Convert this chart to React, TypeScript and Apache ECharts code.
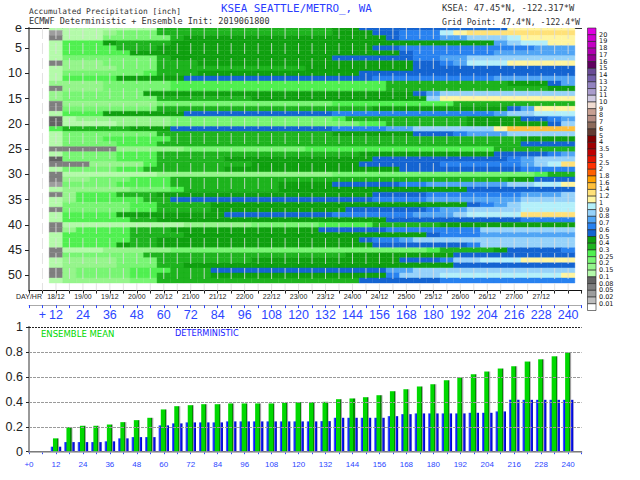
import React, { useEffect, useRef } from "react";
import * as echarts from "echarts";

const dayLabels = ["DAY/HR","18/12","19/00","19/12","20/00","20/12","21/00","21/12","22/00","22/12","23/00","23/12","24/00","24/12","25/00","25/12","26/00","26/12","27/00","27/12"];
const legendLabels = [20,19,18,17,16,15,14,13,12,11,10,9,8,7,6,5,4,3.5,3,2.5,2,1.8,1.6,1.4,1.2,1,0.9,0.8,0.7,0.6,0.5,0.4,0.3,0.25,0.2,0.15,0.1,0.08,0.05,0.02,0.01];
const legendColors = ["#e000e0","#d000d0","#c400c4","#b000b0","#940094","#600060","#6a4c96","#7560aa","#9384c0","#aa9ccc","#cfc8e0","#f0dcd2","#c8a092","#b48c82","#8c6a5a","#643c32","#820000","#a00000","#c00000","#e11400","#ff3200","#ff6000","#ffa000","#ffc03c","#ffe178","#fff5a0","#b4f0fa","#96d2fa","#50a5f5","#2882f0","#1464d2","#0fa00f","#1eb41e","#50f050","#78f573","#96f58c","#b4faaa","#636363","#7f7f7f","#9d9d9d","#bdbdbd","#ffffff"];
const memberLabels = [1,5,10,15,20,25,30,35,40,45,50];
const barHours = [12,18,24,30,36,42,48,54,60,66,72,78,84,90,96,102,108,114,120,126,132,138,144,150,156,162,168,174,180,186,192,198,204,210,216,222,228,234,240];
const ensembleMean = [.107,.197,.208,.208,.218,.237,.253,.272,.339,.365,.373,.381,.381,.387,.387,.387,.387,.392,.397,.397,.40,.421,.427,.437,.453,.485,.501,.523,.541,.573,.595,.621,.643,.667,.685,.723,.741,.765,.795];
const deterministic = [.04,.077,.077,.077,.083,.107,.117,.117,.211,.227,.235,.235,.235,.243,.243,.243,.243,.243,.243,.243,.245,.272,.272,.272,.272,.285,.301,.307,.307,.307,.307,.312,.312,.323,.416,.416,.416,.416,.416];

// each member: runs of [accumulated inches, last forecast hour of the run]
const memberRuns: number[][][] = [
  [[.12,54],[.35,132],[.45,144],[.55,210],[1.1,240]],
  [[.03,12],[.12,30],[.17,36],[.22,54],[.35,132],[.45,150],[.55,162],[.65,180],[.95,186],[1.1,192],[1.3,240]],
  [[.06,12],[.12,30],[.22,60],[.35,66],[.45,156],[.55,162],[.65,180],[.75,192],[.85,210],[.95,216],[1.1,240]],
  [[.12,12],[.27,30],[.45,36],[.35,60],[.45,204],[.75,210],[.85,216],[.95,228],[1.1,240]],
  [[.12,12],[.27,36],[.35,54],[.45,150],[.55,162],[.65,222],[.75,240]],
  [[.12,12],[.27,42],[.45,162],[.55,168],[.65,204],[.75,240]],
  [[.12,12],[.22,54],[.35,60],[.45,132],[.55,168],[.65,180],[.75,192],[.85,240]],
  [[.06,12],[.17,30],[.22,54],[.35,72],[.45,168],[.55,180],[.65,186],[.75,192],[.95,210],[1.1,240]],
  [[.12,12],[.17,36],[.22,54],[.35,120],[.45,168],[.55,240]],
  [[.12,12],[.22,48],[.27,54],[.35,72],[.45,144],[.55,240]],
  [[.12,12],[.27,36],[.45,66],[.55,150],[.65,204],[.75,240]],
  [[.17,30],[.22,60],[.27,156],[.35,210],[.45,228],[.55,234],[.75,240]],
  [[.06,12],[.17,30],[.22,60],[.27,156],[.35,228],[.45,240]],
  [[.17,12],[.22,48],[.45,168],[.55,174],[.75,180],[.85,240]],
  [[.17,12],[.22,54],[.35,96],[.45,174],[.85,180],[1.1,240]],
  [[.06,12],[.17,54],[.22,132],[.27,186],[.35,240]],
  [[.06,12],[.22,54],[.35,150],[.45,210],[.55,216],[.75,222],[1.1,240]],
  [[.12,12],[.27,30],[.45,66],[.55,132],[.65,204],[.75,210],[.85,222],[.95,240]],
  [[.09,12],[.12,18],[.17,60],[.22,132],[.27,138],[.35,192],[.45,216],[.55,228],[.65,234],[.75,240]],
  [[.09,12],[.12,36],[.17,60],[.22,144],[.27,156],[.35,192],[.45,228],[.55,234],[.85,240]],
  [[.27,12],[.35,42],[.45,60],[.55,132],[.65,156],[.75,168],[.85,204],[1.1,210],[1.5,240]],
  [[.12,12],[.22,54],[.35,132],[.45,168],[.55,186],[.65,192],[.75,210],[.85,240]],
  [[.12,12],[.22,30],[.27,60],[.35,216],[.45,240]],
  [[.12,12],[.22,36],[.27,54],[.35,216],[.55,240]],
  [[.06,36],[.17,66],[.22,120],[.27,204],[.35,240]],
  [[.12,12],[.22,36],[.27,54],[.35,144],[.45,204],[.55,228],[.65,234],[.75,240]],
  [[.09,12],[.22,36],[.27,54],[.35,84],[.45,150],[.55,210],[.65,216],[.75,222],[.85,240]],
  [[.06,24],[.17,48],[.27,54],[.35,96],[.45,144],[.55,180],[.65,216],[.75,222],[.85,228],[.95,234],[1.3,240]],
  [[.12,12],[.22,36],[.27,48],[.35,84],[.45,162],[.55,216],[.65,240]],
  [[.06,12],[.12,54],[.17,132],[.22,222],[.27,228],[.35,240]],
  [[.06,12],[.17,24],[.22,42],[.27,60],[.35,210],[.45,222],[.55,240]],
  [[.03,12],[.22,36],[.27,60],[.35,108],[.45,132],[.55,162],[.65,174],[.75,210],[.85,222],[.95,234],[1.1,240]],
  [[.12,12],[.17,42],[.22,60],[.27,66],[.35,108],[.45,192],[.55,240]],
  [[.06,12],[.17,18],[.27,36],[.35,54],[.45,150],[.55,174],[.65,216],[.75,234],[.85,240]],
  [[.12,12],[.17,18],[.27,48],[.35,60],[.55,150],[.65,174],[.75,216],[.85,240]],
  [[.12,12],[.22,42],[.27,54],[.35,78],[.45,192],[.55,198],[.65,204],[.75,210],[.85,216],[.95,240]],
  [[.06,12],[.22,42],[.27,54],[.35,78],[.45,138],[.55,174],[.65,180],[.75,192],[.85,216],[.95,240]],
  [[.12,12],[.27,36],[.45,84],[.55,132],[.65,168],[.75,186],[.85,192],[.95,216],[1.3,240]],
  [[.12,12],[.27,42],[.35,54],[.45,156],[.55,216],[.65,240]],
  [[.06,12],[.12,66],[.17,96],[.22,126],[.27,150],[.35,180],[.45,240]],
  [[.06,12],[.17,18],[.27,42],[.35,60],[.45,126],[.55,156],[.65,198],[.85,240]],
  [[.12,12],[.27,42],[.35,66],[.45,174],[.55,180],[.65,198],[.75,240]],
  [[.12,12],[.27,42],[.35,54],[.45,144],[.55,150],[.65,162],[.75,168],[.85,240]],
  [[.12,12],[.27,36],[.45,42],[.35,54],[.45,150],[.55,192],[.65,198],[.85,240]],
  [[.06,12],[.12,30],[.17,60],[.22,174],[.27,180],[.35,204],[.45,210],[.55,234],[.65,240]],
  [[.06,12],[.22,48],[.35,138],[.45,186],[.55,240]],
  [[.12,12],[.17,36],[.22,54],[.35,96],[.45,162],[.55,180],[.65,186],[.85,198],[.95,216],[1.1,240]],
  [[.12,12],[.17,36],[.22,54],[.35,66],[.45,186],[.55,240]],
  [[.06,12],[.17,18],[.22,42],[.27,60],[.35,78],[.55,156],[.75,168],[.85,240]],
  [[.06,12],[.17,18],[.22,42],[.27,54],[.35,78],[.45,156],[.65,162],[.85,180],[.95,234],[1.1,240]],
  [[.12,12],[.17,42],[.22,54],[.35,144],[.55,180],[.65,240]],
];

const colorOf = (v: number) => {
  const i = legendLabels.findIndex((t) => v >= t);
  return legendColors[i < 0 ? legendColors.length - 1 : i];
};

const cells: number[][] = [];
memberRuns.forEach((runs, r) => {
  barHours.forEach((h) => {
    const run = runs.find((u) => h <= u[1]) || runs[runs.length - 1];
    cells.push([h, r + 1, run[0]]);
  });
});
const guideHours = [6, ...barHours];
const legendBoxes = legendColors.map((_, i) => [i]);

const SANS = "'Liberation Sans', Arial, sans-serif";
const DJ = "'DejaVu Sans', sans-serif";
const MONO = "'DejaVu Sans Mono', monospace";
const BLUE = "#2c46ff";

export default function App() {
  const ref = useRef<HTMLDivElement>(null);
  useEffect(() => {
    document.body.style.margin = "0";
    const chart = echarts.init(ref.current!, null, { renderer: "svg" });
    const hidden = { show: false };
    const hourAxis = { type: "value", min: 0, max: 246, interval: 6, splitLine: hidden };
    chart.setOption({
      animation: false,
      backgroundColor: "#fff",
      grid: [
        { left: 29, top: 28, width: 552.6, height: 262.6 },
        { left: 29, top: 327, width: 552.6, height: 124.7 },
        { left: 587.5, top: 28, width: 8.5, height: 282.5 },
      ],
      xAxis: [
        { ...hourAxis, gridIndex: 0, position: "bottom",
          axisLine: { lineStyle: { color: "#111", width: 1.2 } },
          axisTick: { length: 3, lineStyle: { color: "#222" } },
          axisLabel: { fontSize: 7, color: "#222", fontFamily: SANS, margin: 2.5,
            formatter: (v: number) => (v % 12 === 0 ? dayLabels[v / 12] || "" : "") } },
        { ...hourAxis, gridIndex: 0, position: "bottom", offset: 14.5,
          axisLine: { lineStyle: { color: "#aaa", width: 1 } },
          axisTick: { length: 3, lineStyle: { color: BLUE } },
          axisLabel: { fontSize: 12.5, color: BLUE, fontFamily: SANS, margin: 3.5,
            formatter: (v: number) => (v === 6 ? "+" : v > 0 && v <= 240 && v % 12 === 0 ? String(v) : "") } },
        { ...hourAxis, gridIndex: 0, position: "top", axisLine: { lineStyle: { color: "#333", width: 1 } }, axisTick: hidden, axisLabel: hidden },
        { ...hourAxis, gridIndex: 1, position: "bottom", offset: 5.3,
          axisLine: { lineStyle: { color: "#111", width: 1 } },
          axisTick: { length: 2.5, lineStyle: { color: BLUE } },
          axisLabel: { fontSize: 8, color: BLUE, fontFamily: SANS, margin: 3,
            formatter: (v: number) => (v === 0 ? "+0" : v <= 240 && v % 12 === 0 ? String(v) : "") } },
        { ...hourAxis, gridIndex: 1, position: "bottom", axisLine: { onZero: false, lineStyle: { color: "#a0a0a0", width: 1.5 } }, axisTick: hidden, axisLabel: hidden, z: 6 },
        { ...hourAxis, gridIndex: 1, show: false },
        { type: "value", min: 0, max: 1, gridIndex: 2, show: false },
      ],
      yAxis: [
        { type: "value", gridIndex: 0, inverse: true, min: 1, max: 53, splitLine: hidden,
          axisLine: { show: true, lineStyle: { color: "#777", width: 2 } },
          axisTick: { show: true, length: 4, lineStyle: { color: "#222" }, customValues: memberLabels },
          axisLabel: { fontSize: 12.5, color: "#222", fontFamily: SANS, margin: 7, customValues: memberLabels,
            formatter: (v: number) => (v === 1 ? "e" : String(v)) } },
        { type: "value", gridIndex: 0, inverse: true, min: 1, max: 53, position: "right", splitLine: hidden,
          axisLine: { show: true, lineStyle: { color: "#888", width: 1.5 } }, axisTick: hidden, axisLabel: hidden },
        { type: "value", gridIndex: 1, min: 0, max: 1, interval: 0.2, splitLine: hidden,
          axisLine: { show: true, lineStyle: { color: "#111", width: 1.5 } },
          axisTick: { show: true, length: 3, lineStyle: { color: "#222" } },
          axisLabel: { fontSize: 12.5, color: "#222", fontFamily: SANS, margin: 6,
            formatter: (v: number) => String(+v.toFixed(1)) } },
        { type: "value", gridIndex: 1, min: 0, max: 1, position: "right", splitLine: hidden,
          axisLine: { show: true, lineStyle: { color: "#999", width: 2 } }, axisTick: hidden, axisLabel: hidden },
        { type: "value", gridIndex: 2, inverse: true, min: 0, max: 42, position: "right", splitLine: hidden,
          axisLine: hidden, axisTick: hidden,
          axisLabel: { fontSize: 6.5, color: "#111", fontFamily: DJ, margin: 3, align: "left",
            customValues: [0, ...legendLabels.map((_, i) => i + 1), 42],
            formatter: (v: number) => (v >= 1 && v <= legendLabels.length ? String(legendLabels[v - 1]) : "") } },
      ],
      graphic: [
        { type: "text", x: 29, y: 7, style: { text: "Accumulated Precipitation [inch]", fontSize: 7.9, fontFamily: MONO, fill: "#333" } },
        { type: "text", x: 29, y: 16, style: { text: "ECMWF Deterministic + Ensemble Init: 2019061800", fontSize: 8.5, fontFamily: MONO, fill: "#333" } },
        { type: "text", x: 221, y: 3, style: { text: "KSEA SEATTLE/METRO_, WA", fontSize: 10.9, fontFamily: MONO, fill: "#2a3cff" } },
        { type: "text", x: 442, y: 3.5, style: { text: "KSEA: 47.45*N, -122.317*W", fontSize: 8.8, fontFamily: MONO, fill: "#333" } },
        { type: "text", x: 442, y: 17.5, style: { text: "Grid Point: 47.4*N, -122.4*W", fontSize: 8.2, fontFamily: MONO, fill: "#333" } },
        { type: "text", x: 41, y: 329, style: { text: "ENSEMBLE MEAN", fontSize: 8.5, fontFamily: DJ, fill: "#00d800" } },
        { type: "text", x: 175, y: 329, style: { text: "DETERMINISTIC", fontSize: 8.2, fontFamily: DJ, fill: "#1a1aff" } },
      ],
      series: [
        {
          type: "custom", xAxisIndex: 0, yAxisIndex: 0, clip: true, silent: true, data: cells, z: 2,
          encode: { x: 0, y: 1 },
          renderItem: (_: any, api: any) => {
            const h = api.value(0), r = api.value(1);
            const a = api.coord([h - 3, r - 0.5]);
            const b = api.coord([h + 3, r + 0.5]);
            const c = colorOf(api.value(2));
            return { type: "rect", shape: { x: a[0], y: a[1], width: b[0] - a[0], height: b[1] - a[1] },
              style: { fill: c, stroke: c, lineWidth: 0.4 } };
          },
        },
        {
          type: "custom", xAxisIndex: 0, yAxisIndex: 0, silent: true, z: 3, data: guideHours.map((h) => [h]),
          encode: { x: 0 },
          renderItem: (_: any, api: any) => {
            const a = api.coord([api.value(0), 1]);
            const b = api.coord([api.value(0), 53]);
            return { type: "line", shape: { x1: a[0], y1: a[1], x2: b[0], y2: b[1] },
              style: { stroke: "rgba(222,222,222,0.85)", lineWidth: 1, lineDash: [11, 4] } };
          },
        },
        {
          type: "bar", xAxisIndex: 5, yAxisIndex: 2, barWidth: 10.5, z: 2, silent: true,
          data: barHours.map((h, i) => [h, deterministic[i]]),
          itemStyle: { color: { type: "linear", x: 0, y: 0, x2: 1, y2: 0, colorStops: [
            { offset: 0, color: "#5a78ff" }, { offset: 0.15, color: "#0a14ff" }, { offset: 0.85, color: "#0a14ff" }, { offset: 1, color: "#0000a0" } ] } },
        },
        {
          type: "bar", xAxisIndex: 4, yAxisIndex: 2, barWidth: 6, z: 3, silent: true,
          data: barHours.map((h, i) => [h, ensembleMean[i]]),
          itemStyle: { color: { type: "linear", x: 0, y: 0, x2: 1, y2: 0, colorStops: [
            { offset: 0, color: "#00d800" }, { offset: 0.66, color: "#00d800" }, { offset: 0.67, color: "#008c00" }, { offset: 0.84, color: "#008c00" }, { offset: 0.85, color: "#a0a0a0" }, { offset: 1, color: "#a0a0a0" } ] } },
          markLine: { silent: true, symbol: "none", z: 5, label: hidden, animation: false,
            data: [
              { yAxis: 0.2, lineStyle: { color: "#9a9a9a", type: [3, 1], width: 1 } },
              { yAxis: 0.4, lineStyle: { color: "#9a9a9a", type: [3, 1], width: 1 } },
              { yAxis: 0.6, lineStyle: { color: "#9a9a9a", type: [3, 1], width: 1 } },
              { yAxis: 0.8, lineStyle: { color: "#9a9a9a", type: [3, 1], width: 1 } },
              { yAxis: 1, lineStyle: { color: "#222", type: [2, 1], width: 1 } },
            ] },
        },
        {
          type: "custom", xAxisIndex: 6, yAxisIndex: 4, silent: true, data: legendBoxes, z: 2,
          encode: { y: 0 },
          renderItem: (_: any, api: any) => {
            const i = api.value(0);
            const a = api.coord([0, i]);
            const b = api.coord([1, i + 1]);
            return { type: "rect", shape: { x: a[0], y: a[1], width: b[0] - a[0], height: b[1] - a[1] },
              style: { fill: legendColors[i], stroke: "#222", lineWidth: 0.6 } };
          },
        },
      ],
    });
    return () => chart.dispose();
  }, []);
  return <div ref={ref} style={{ width: 640, height: 480 }} />;
}
